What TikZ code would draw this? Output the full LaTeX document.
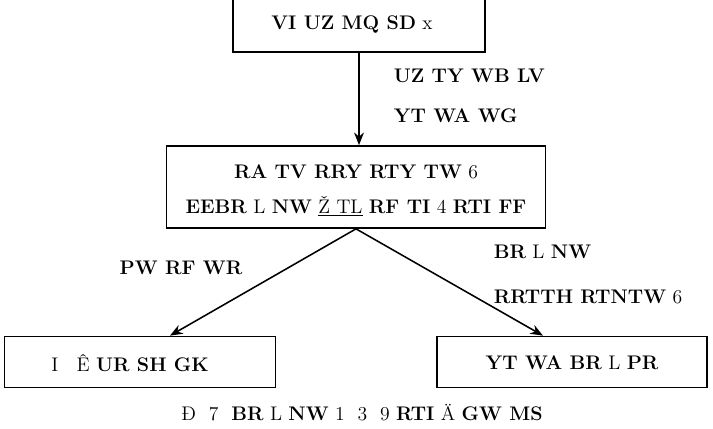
\documentclass[tikz,border=0pt]{standalone}
\usetikzlibrary{arrows.meta,calc}
\tikzset{
  box/.style={draw,line width=1.2pt,inner sep=0,align=center},
  txt/.style={inner sep=0,font=\fontsize{14}{17}\selectfont},
}

\begin{document}
\begin{tikzpicture}[x=0.025cm,y=-0.025cm,line width=1.1pt,>={Stealth[length=9pt,width=7pt]}]
\useasboundingbox (0,0) rectangle (713,429);
% ---------- boxes ----------
\node[box,minimum width=252*0.025cm,minimum height=58*0.025cm] (top) at (359,23) {};
\node[txt] (toptxt) at (352,25) {\textbf{VI UZ MQ SD} x};
\node[box,minimum width=379*0.025cm,minimum height=82*0.025cm] (mid) at (356,187) {};
\node[txt] (midA) at (356,172) {\textbf{RA TV RRY RTY TW} 6};
\node[txt] (midB) at (356,206) {\textbf{EEBR} L \textbf{NW} \underline{Ž TL} \textbf{RF TI} 4 \textbf{RTI FF}};
\node[box,minimum width=271*0.025cm,minimum height=51*0.025cm] (left) at (140,362) {};
\node[txt] (lefttxt) at (130,363) {I \; Ê \textbf{UR SH GK}};
\node[box,minimum width=270*0.025cm,minimum height=51*0.025cm] (right) at (572,362) {};
\node[txt] (righttxt) at (572,363) {\textbf{YT WA BR} L \textbf{PR}};
% ---------- connectors ----------
\draw[->] (top.south) -- (top.south |- mid.north);
\draw[->] (mid.south) -- ($(left.north)+(30,0)$);
\draw[->] (mid.south) -- ($(right.north)+(-29,0)$);
% ---------- labels ----------
\node[txt,anchor=west] (upA) at (393,76) {\textbf{UZ TY WB LV}};
\node[txt,anchor=west] (upB) at (393,116) {\textbf{YT WA WG}};
\node[txt] (lab) at (181,268) {\textbf{PW RF WR}};
\node[txt,anchor=west] (rlabA) at (493,252) {\textbf{BR} L \textbf{NW}};
\node[txt,anchor=west] (rlabB) at (493,297) {\textbf{RRTTH RTNTW} 6};
\node[txt] (foot) at (362,413) {Đ \ 7 \ \textbf{BR} L \textbf{NW} 1 \ 3 \ 9 \textbf{RTI} Ä \textbf{GW MS}};
\end{tikzpicture}
\end{document}
